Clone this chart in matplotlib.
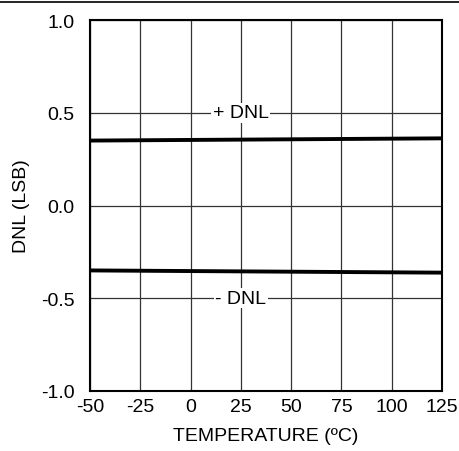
import matplotlib
matplotlib.use("Agg")
import matplotlib.pyplot as plt
from matplotlib.lines import Line2D

plt.rcParams['font.family'] = ['Liberation Sans', 'DejaVu Sans']
plt.rcParams['axes.unicode_minus'] = False

temps = [-50, 125]
dnl_pos = [0.35, 0.362]
dnl_neg = [-0.35, -0.362]
xticks = [-50, -25, 0, 25, 50, 75, 100, 125]
yticks = [-1.0, -0.5, 0.0, 0.5, 1.0]

fs = 14

fig = plt.figure(figsize=(4.59, 4.52), dpi=100)
ax = fig.add_axes([90/459, 1 - 392/452, 352/459, 371/452])

ax.set_xlim(-50, 125)
ax.set_ylim(-1.0, 1.0)
ax.set_xticks(xticks)
ax.set_yticks(yticks)
ax.set_yticklabels([f'{v:.1f}' for v in yticks])
ax.tick_params(length=0, labelsize=fs)
ax.tick_params(axis='x', pad=5)
ax.tick_params(axis='y', pad=11)
ax.grid(True, color='#333333', linewidth=0.9)
ax.set_axisbelow(True)
for s in ax.spines.values():
    s.set_linewidth(1.5)
    s.set_color('black')

ax.plot(temps, dnl_pos, color='black', linewidth=2.8, zorder=3)
ax.plot(temps, dnl_neg, color='black', linewidth=2.8, zorder=3)

box = dict(facecolor='white', edgecolor='none', pad=1.0)
ax.text(25, 0.5, '+ DNL', ha='center', va='center', fontsize=fs, bbox=box, zorder=4)
ax.text(25, -0.5, '- DNL', ha='center', va='center', fontsize=fs, bbox=box, zorder=4)

ax.set_xlabel('TEMPERATURE (ºC)', fontsize=fs, labelpad=9)
ax.set_ylabel('DNL (LSB)', fontsize=fs, labelpad=8)

fig.add_artist(Line2D([0, 1], [1 - 2.5/452, 1 - 2.5/452], color='black', linewidth=1.2,
                      transform=fig.transFigure))

fig.savefig('out.png', dpi=100)
